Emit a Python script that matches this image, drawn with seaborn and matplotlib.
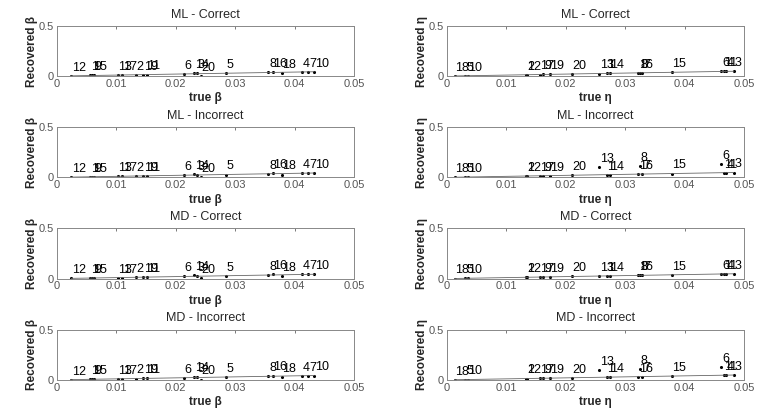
import numpy as np
import pandas as pd
import seaborn as sns
import matplotlib
matplotlib.use("Agg")
import matplotlib.pyplot as plt
from matplotlib.ticker import FormatStrFormatter

# parameter index, true value and recovered value
beta_idx = [12, 1, 15, 9, 13, 17, 2, 19, 11, 6, 14, 3, 20, 5, 8, 16, 18, 4, 7, 10]
beta_true = [0.0024, 0.0056, 0.0059, 0.0062, 0.0102, 0.0110, 0.0133, 0.0145, 0.0151, 0.0214,
             0.0231, 0.0235, 0.0242, 0.0284, 0.0356, 0.0363, 0.0378, 0.0412, 0.0423, 0.0433]
beta_rec_correct = [0.002, 0.006, 0.006, 0.006, 0.010, 0.010, 0.013, 0.014, 0.015, 0.021,
                    0.033, 0.026, 0.003, 0.028, 0.036, 0.043, 0.028, 0.041, 0.042, 0.043]
beta_rec_incorrect = [0.002, 0.006, 0.006, 0.006, 0.010, 0.010, 0.013, 0.014, 0.015, 0.021,
                      0.033, 0.026, 0.003, 0.028, 0.036, 0.043, 0.028, 0.041, 0.042, 0.043]

eta_idx = [18, 5, 10, 12, 2, 17, 9, 19, 20, 13, 1, 14, 16, 8, 7, 15, 6, 11, 4, 3]
eta_true = [0.0013, 0.0031, 0.0035, 0.0133, 0.0134, 0.0156, 0.0162, 0.0173, 0.0210, 0.0256,
            0.0269, 0.0274, 0.0322, 0.0325, 0.0329, 0.0378, 0.0462, 0.0466, 0.0470, 0.0483]
eta_rec_correct = [0.001, 0.003, 0.003, 0.013, 0.013, 0.015, 0.016, 0.017, 0.021, 0.025,
                   0.027, 0.027, 0.032, 0.033, 0.033, 0.038, 0.046, 0.046, 0.047, 0.048]
eta_rec_incorrect = [0.001, 0.003, 0.003, 0.013, 0.013, 0.015, 0.016, 0.017, 0.021, 0.100,
                     0.027, 0.027, 0.032, 0.110, 0.033, 0.038, 0.130, 0.046, 0.047, 0.048]

methods = ["ML - Correct", "ML - Incorrect", "MD - Correct", "MD - Incorrect"]
x_ticks = [0, 0.01, 0.02, 0.03, 0.04, 0.05]
y_ticks = [0, 0.5]

sns.set_style("white")
plt.rcParams["font.family"] = ["Liberation Sans", "DejaVu Sans"]

fig, axes = plt.subplots(4, 2, figsize=(7.67, 4.12), dpi=100)
fig.subplots_adjust(left=0.0743, right=0.970, bottom=0.078, top=0.937,
                    wspace=0.313, hspace=1.02)

panels = [
    (beta_idx, beta_true, [beta_rec_correct, beta_rec_incorrect] * 2, "\u03b2"),
    (eta_idx, eta_true, [eta_rec_correct, eta_rec_incorrect] * 2, "\u03b7"),
]

for col, (idx, true_vals, recs, sym) in enumerate(panels):
    for row in range(4):
        ax = axes[row, col]
        df = pd.DataFrame({"idx": idx, "true": true_vals, "rec": recs[row]})
        line = df.sort_values("true")
        sns.lineplot(x=line["true"], y=line["true"], ax=ax, color="#666666",
                     lw=0.6, sort=True)
        sns.scatterplot(data=df, x="true", y="rec", ax=ax, color="black",
                        s=5, marker="o", linewidth=0)
        for _, r in df.iterrows():
            ax.annotate(str(int(r["idx"])), (r["true"], r["rec"]), xytext=(0.5, 1.5),
                        textcoords="offset points", ha="left", va="bottom",
                        fontsize=9, color="black")
        ax.set_xlim(0, 0.05)
        ax.set_ylim(0, 0.5)
        ax.set_xticks(x_ticks)
        ax.set_yticks(y_ticks)
        ax.xaxis.set_major_formatter(FormatStrFormatter("%g"))
        ax.yaxis.set_major_formatter(FormatStrFormatter("%g"))
        ax.tick_params(direction="in", length=2.5, width=0.5, labelsize=8,
                       colors="#444444", top=True, right=True, pad=2)
        ax.tick_params(labelcolor="#555555")
        for sp in ax.spines.values():
            sp.set_color("#888888")
            sp.set_linewidth(0.7)
        ax.set_title(methods[row], fontsize=9, pad=6)
        ax.set_xlabel("true " + sym, fontsize=8.5, fontweight="bold", labelpad=2.5)
        ax.set_ylabel("Recovered " + sym, fontsize=8.5, fontweight="bold", labelpad=1)

fig.savefig("out.png", dpi=100, facecolor="white")
